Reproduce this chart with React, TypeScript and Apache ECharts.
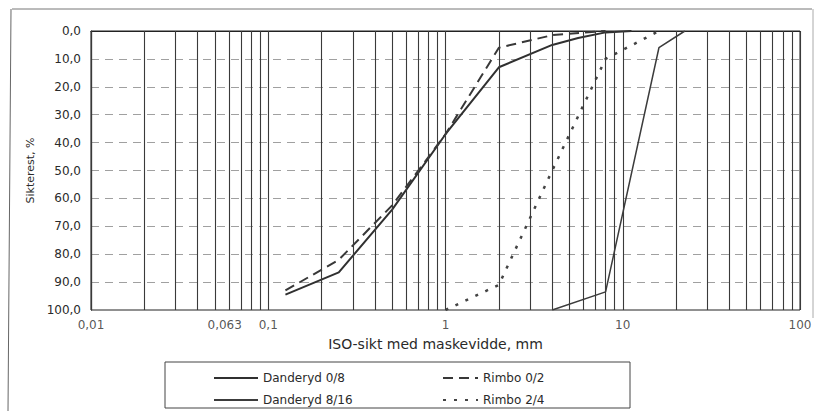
import React, { useEffect, useRef } from "react";
import * as echarts from "echarts";

// Grid of sieve sizes (log grid): multipliers within each decade
const decades = [0.01, 0.1, 1, 10];
const gridMultipliers = [1, 2, 3, 4, 5, 6, 7, 8, 9];
const gridEnd = 100;

// X tick labels
const xTickValues = [0.01, 0.063, 0.1, 1, 10, 100];
const xTickLabels = ["0,01", "0,063", "0,1", "1", "10", "100"];

// Danderyd 0/8 (solid)
const d08Sizes = [0.125, 0.25, 0.5, 1, 2, 4, 5.6, 8, 11.2];
const d08Values = [94.5, 86.5, 64, 37, 13, 5, 2.5, 0.5, 0];

// Danderyd 8/16 (thin solid)
const d816Sizes = [4, 8, 16, 22.4];
const d816Values = [100, 93.5, 6, 0];

// Rimbo 0/2 (dashed)
const r02Sizes = [0.125, 0.25, 0.5, 1, 2, 4, 8];
const r02Values = [93, 82, 62.5, 37, 6, 1.5, 0];

// Rimbo 2/4 (dotted)
const r24Sizes = [1, 2, 4, 8, 16];
const r24Values = [100, 91, 50, 10, 0];

const seriesNames = ["Danderyd 0/8", "Danderyd 8/16", "Rimbo 0/2", "Rimbo 2/4"];

const FONT = "'DejaVu Sans', Verdana, sans-serif";
const INK = "#2a2a2a";

export default function App() {
  const ref = useRef<HTMLDivElement>(null);

  useEffect(() => {
    const chart = echarts.init(ref.current!, null, { renderer: "svg" });
    const gridLines: number[] = [];
    decades.forEach((d) =>
      gridMultipliers.forEach((m) => gridLines.push(+(d * m).toPrecision(3)))
    );
    gridLines.push(gridEnd);
    const pairs = (xs: number[], ys: number[]) => xs.map((x, i) => [x, ys[i]]);

    const legendCommon = {
      orient: "vertical",
      top: 367,
      itemHeight: 14,
      itemGap: 10,
      textStyle: { fontSize: 12, color: INK, fontFamily: FONT },
      itemStyle: { opacity: 0, borderWidth: 0 },
      selectedMode: false,
    };

    chart.setOption({
      animation: false,
      backgroundColor: "#ffffff",
      textStyle: { fontFamily: FONT, color: INK },
      grid: {
        left: 91,
        top: 31,
        width: 709,
        height: 279,
        show: true,
        borderColor: "#222",
        borderWidth: 1,
        backgroundColor: "transparent",
      },
      xAxis: {
        type: "log",
        logBase: 10,
        min: 0.01,
        max: 100,
        axisLine: { show: true, lineStyle: { color: "#222", width: 1.2 } },
        axisTick: { show: false },
        axisLabel: { show: false },
        splitLine: { show: false },
        name: "ISO-sikt med maskevidde, mm",
        nameLocation: "middle",
        nameGap: 27,
        nameTextStyle: {
          fontSize: 14,
          color: INK,
          fontFamily: FONT,
          padding: [0, 20, 0, 0],
        },
      },
      yAxis: {
        type: "value",
        inverse: true,
        min: 0,
        max: 100,
        interval: 10,
        axisLine: { show: true, lineStyle: { color: "#222", width: 1.2 } },
        axisTick: { show: false },
        axisLabel: {
          margin: 10,
          fontSize: 12,
          color: INK,
          fontFamily: FONT,
          formatter: (v: number) => v.toFixed(1).replace(".", ","),
        },
        splitLine: {
          show: true,
          showMinLine: false,
          showMaxLine: false,
          lineStyle: { color: "#a0a0a0", width: 1, type: [8, 6] },
        },
        name: "Sikterest, %",
        nameLocation: "middle",
        nameGap: 46,
        nameTextStyle: { fontSize: 11, color: INK, fontFamily: FONT },
      },
      legend: [
        {
          ...legendCommon,
          data: [seriesNames[0], seriesNames[1]],
          left: 208,
          itemWidth: 44,
        },
        {
          ...legendCommon,
          data: [seriesNames[2], seriesNames[3]],
          left: 437,
          itemWidth: 35,
        },
      ],
      graphic: [
        {
          type: "rect",
          shape: { x: 165, y: 362, width: 465, height: 46 },
          style: { fill: "none", stroke: "#444", lineWidth: 1 },
          silent: true,
        },
        {
          type: "line",
          shape: { x1: 12, y1: 9, x2: 812, y2: 9 },
          style: { stroke: "#777", lineWidth: 1 },
          silent: true,
        },
        {
          type: "line",
          shape: { x1: 11, y1: 9, x2: 8, y2: 411 },
          style: { stroke: "#666", lineWidth: 1 },
          silent: true,
        },
        {
          type: "line",
          shape: { x1: 813, y1: 9, x2: 813, y2: 318 },
          style: { stroke: "#aaa", lineWidth: 1 },
          silent: true,
        },
      ],
      series: [
        {
          name: "gridlines",
          type: "line",
          data: [[1, 50]],
          showSymbol: false,
          symbol: "none",
          lineStyle: { opacity: 0 },
          silent: true,
          z: 1,
          markLine: {
            silent: true,
            symbol: ["none", "none"],
            label: { show: false },
            lineStyle: { color: "#3a3a3a", width: 1.1, type: "solid" },
            data: gridLines.map((v) => ({ xAxis: v })),
          },
        },
        {
          name: "ticklabels",
          type: "scatter",
          symbolSize: 0,
          clip: false,
          silent: true,
          z: 2,
          data: xTickValues.map((v, i) => ({
            value: [v, 100],
            label: i === 1 ? { offset: [-8, 0] } : undefined,
          })),
          label: {
            show: true,
            position: "bottom",
            distance: 9,
            fontSize: 12,
            color: INK,
            fontFamily: FONT,
            formatter: (p: any) => xTickLabels[p.dataIndex],
          },
        },
        {
          name: seriesNames[0],
          type: "line",
          data: pairs(d08Sizes, d08Values),
          symbol: "none",
          z: 4,
          lineStyle: { color: "#303030", width: 2, type: "solid" },
          itemStyle: { color: "#303030" },
        },
        {
          name: seriesNames[1],
          type: "line",
          data: pairs(d816Sizes, d816Values),
          symbol: "none",
          z: 4,
          lineStyle: { color: "#3c3c3c", width: 1.5, type: "solid" },
          itemStyle: { color: "#3c3c3c" },
        },
        {
          name: seriesNames[2],
          type: "line",
          data: pairs(r02Sizes, r02Values),
          symbol: "none",
          z: 4,
          lineStyle: { color: "#383838", width: 2, type: [10, 6] },
          itemStyle: { color: "#383838" },
        },
        {
          name: seriesNames[3],
          type: "line",
          data: pairs(r24Sizes, r24Values),
          symbol: "none",
          z: 4,
          lineStyle: { color: "#444", width: 2.5, type: [3, 8] },
          itemStyle: { color: "#444" },
        },
      ],
    });
    return () => chart.dispose();
  }, []);

  return (
    <div
      ref={ref}
      style={{
        position: "fixed",
        left: 0,
        top: 0,
        width: 817,
        height: 411,
        background: "#fff",
      }}
    />
  );
}
